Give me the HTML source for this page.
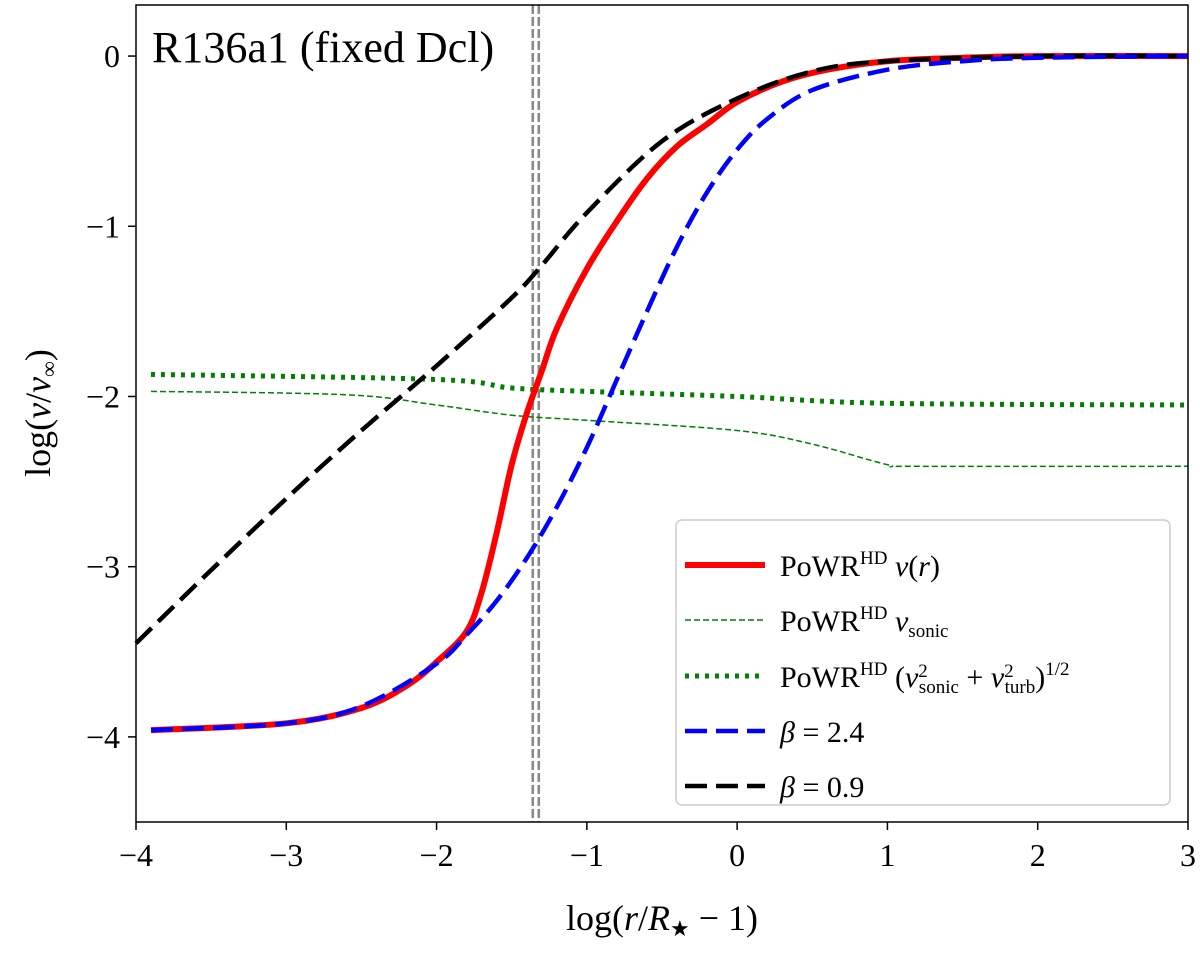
<!DOCTYPE html>
<html><head><meta charset="utf-8"><style>
html,body{margin:0;padding:0;background:#fff;}
svg{display:block;font-family:"Liberation Serif",serif;}
</style></head><body>
<svg id="chart" width="1200" height="953" viewBox="0 0 1200 953" xmlns="http://www.w3.org/2000/svg"></svg>
<script>
const xTicks=[-4,-3,-2,-1,0,1,2,3];
const yTicks=[0,-1,-2,-3,-4];
const redX=[-3.9,-3,-2.5,-2.2,-2,-1.8,-1.7,-1.6,-1.5,-1.4,-1.3,-1.2,-1.0,-0.8,-0.6,-0.4,-0.2,0,0.3,0.6,1,1.5,2,3];
const redY=[-3.96,-3.92,-3.83,-3.7,-3.56,-3.38,-3.15,-2.8,-2.4,-2.1,-1.85,-1.6,-1.25,-0.97,-0.72,-0.53,-0.4,-0.27,-0.15,-0.08,-0.03,-0.01,0,0];
const blueX=[-3.9,-3,-2.5,-2,-1.8,-1.6,-1.4,-1.2,-1,-0.8,-0.6,-0.4,-0.2,0,0.2,0.5,1,1.5,2,3];
const blueY=[-3.96,-3.92,-3.82,-3.57,-3.4,-3.2,-2.95,-2.65,-2.3,-1.9,-1.5,-1.12,-0.8,-0.55,-0.37,-0.2,-0.08,-0.03,-0.01,0];
const blackX=[-4,-3.5,-3,-2.5,-2,-1.5,-1.3,-1,-0.5,0,0.5,1,2,3];
const blackY=[-3.45,-3.02,-2.6,-2.2,-1.82,-1.42,-1.23,-0.92,-0.5,-0.25,-0.09,-0.03,0,0];
const dotX=[-3.9,-2,-1.5,-1,0,1,3];
const dotY=[-1.87,-1.9,-1.95,-1.97,-2.0,-2.04,-2.05];
const sonicX=[-3.9,-2.6,-2,-1.5,-1,0,0.5,1,1.2,3];
const sonicY=[-1.97,-1.99,-2.05,-2.11,-2.14,-2.2,-2.28,-2.4,-2.41,-2.41];
const vlines=[-1.36,-1.32];

const L=136,R=1188,T=5,B=822,x0=-4,x1=3,y0=-4.5,y1=0.3;
const sx=v=>L+(v-x0)/(x1-x0)*(R-L);
const sy=v=>B-(v-y0)/(y1-y0)*(B-T);
const svg=document.getElementById('chart');
const NS='http://www.w3.org/2000/svg';
function mk(tag,attrs,parent){const e=document.createElementNS(NS,tag);for(const k in attrs)e.setAttribute(k,attrs[k]);(parent||svg).appendChild(e);return e;}
function smoothPath(xs,ys){
  const P=xs.map((x,i)=>[sx(x),sy(ys[i])]);
  let d='M'+P[0][0].toFixed(1)+','+P[0][1].toFixed(1);
  for(let i=0;i<P.length-1;i++){
    const p0=P[i-1]||P[i],p1=P[i],p2=P[i+1],p3=P[i+2]||P[i+1];
    const c1=[p1[0]+(p2[0]-p0[0])/6,p1[1]+(p2[1]-p0[1])/6];
    const c2=[p2[0]-(p3[0]-p1[0])/6,p2[1]-(p3[1]-p1[1])/6];
    d+=' C'+c1.map(v=>v.toFixed(1)).join(',')+' '+c2.map(v=>v.toFixed(1)).join(',')+' '+p2.map(v=>v.toFixed(1)).join(',');
  }
  return d;
}

vlines.forEach(v=>{const l=mk('line',{x1:sx(v),x2:sx(v),y1:T,y2:B,stroke:'#888',"stroke-width":2.5,"stroke-dasharray":"9,3"});

});

function series(xs,ys,color,w,dash,name){const p=mk('path',{d:smoothPath(xs,ys),fill:'none',stroke:color,"stroke-width":w,"stroke-linejoin":"round"});if(dash)p.setAttribute('stroke-dasharray',dash);

}
series(sonicX,sonicY,'#008000',1.5,'6,3','sonic-velocity-line');
series(dotX,dotY,'#008000',5,'4,6','sonic-turb-line');
series(redX,redY,'#ff0000',6,null,'powr-velocity-line');
series(blackX,blackY,'#000',4.5,'22,9','beta-0.9-line');
series(blueX,blueY,'#0000ff',4.5,'22,9','beta-2.4-line');

const frame=mk('rect',{x:L,y:T,width:R-L,height:B-T,fill:'none',stroke:'#000',"stroke-width":1.5});



xTicks.forEach(v=>{mk('line',{x1:sx(v),x2:sx(v),y1:B,y2:B+8,stroke:'#000',"stroke-width":1.5});
const t=mk('text',{x:sx(v),y:B+44,"text-anchor":"middle","font-size":32});t.textContent=(v<0?'\u2212'+(-v):v);

});
yTicks.forEach(v=>{mk('line',{x1:L-8,x2:L,y1:sy(v),y2:sy(v),stroke:'#000',"stroke-width":1.5});
const t=mk('text',{x:L-16,y:sy(v)+11,"text-anchor":"end","font-size":32});t.textContent=(v<0?'\u2212'+(-v):v);

});
</script>
<svg style="position:absolute;left:0;top:0" width="1200" height="953" font-family="Liberation Serif, serif">
<text x="152" y="62" font-size="44">R136a1 (fixed Dcl)</text>
<text x="662" y="930" font-size="36" text-anchor="middle">log(<tspan font-style="italic">r</tspan>/<tspan font-style="italic">R</tspan><tspan font-size="22" dy="6">★</tspan><tspan dy="-6"> − 1)</tspan></text>
<text transform="translate(50,413) rotate(-90)" font-size="36" text-anchor="middle">log(<tspan font-style="italic">v</tspan>/<tspan font-style="italic">v</tspan><tspan font-size="22" dy="6">∞</tspan><tspan dy="-6">)</tspan></text>
<g>
<rect x="676" y="520" width="494" height="285" rx="6" fill="#fff" fill-opacity="0.85" stroke="#ccc" stroke-width="1.5"/>
<line x1="685" y1="565" x2="765" y2="565" stroke="#f00" stroke-width="6"/>
<text x="780" y="576" font-size="30">PoWR<tspan font-size="19" dy="-12">HD</tspan><tspan dy="12" font-style="italic"> v</tspan>(<tspan font-style="italic">r</tspan>)</text>
<line x1="685" y1="620" x2="765" y2="620" stroke="#008000" stroke-width="1.5" stroke-dasharray="6,3"/>
<text x="780" y="631" font-size="30">PoWR<tspan font-size="19" dy="-12">HD</tspan><tspan dy="12" font-style="italic"> v</tspan><tspan font-size="19" dy="6">sonic</tspan></text>
<line x1="685" y1="676" x2="765" y2="676" stroke="#008000" stroke-width="5" stroke-dasharray="4,6"/>
<text x="780" y="687" font-size="30">PoWR<tspan font-size="19" dy="-12">HD</tspan><tspan dy="12"> (</tspan><tspan font-style="italic">v</tspan><tspan font-size="19" dy="-10">2</tspan><tspan font-size="19" dx="-9" dy="16">sonic</tspan><tspan dy="-6"> + </tspan><tspan font-style="italic">v</tspan><tspan font-size="19" dy="-10">2</tspan><tspan font-size="19" dx="-9" dy="16">turb</tspan><tspan dy="-6">)</tspan><tspan font-size="19" dy="-12">1/2</tspan></text>
<line x1="685" y1="731" x2="765" y2="731" stroke="#00f" stroke-width="4.5" stroke-dasharray="22,9"/>
<text x="780" y="742" font-size="30"><tspan font-style="italic">β</tspan> = 2.4</text>
<line x1="685" y1="786" x2="765" y2="786" stroke="#000" stroke-width="4.5" stroke-dasharray="22,9"/>
<text x="780" y="797" font-size="30"><tspan font-style="italic">β</tspan> = 0.9</text>
</g>
</svg>
</body></html>
